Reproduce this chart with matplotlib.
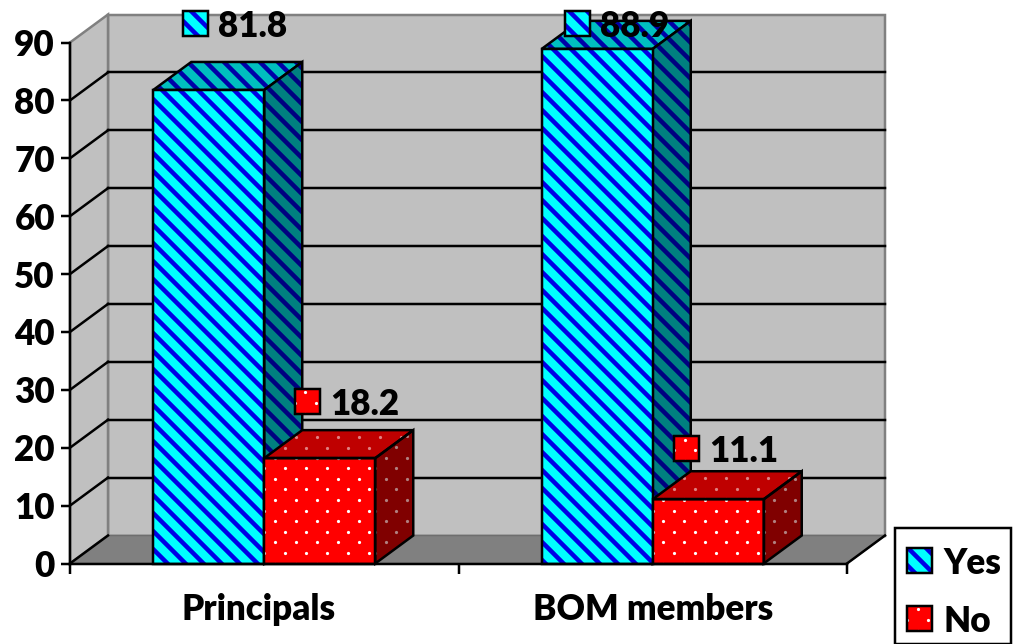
import numpy as np
import matplotlib
matplotlib.use('Agg')
import matplotlib.pyplot as plt
from matplotlib.patches import Polygon
from matplotlib.transforms import IdentityTransform

categories = ['Principals', 'BOM members']
series_names = ['Yes', 'No']
yes_values = [81.8, 88.9]
no_values = [18.2, 11.1]
y_ticks = [0, 10, 20, 30, 40, 50, 60, 70, 80, 90]

W, H = 1014, 644
DPI = 108
PX = 72 / DPI  # one pixel in points

# fake 3d depth, in data units
DX = 38 / 388.5
DY = 28 / 5.789
BAR_W = 111 / 388.5

plt.rcParams['font.family'] = ['Lato', 'DejaVu Sans']
plt.rcParams['font.weight'] = 'heavy'
plt.rcParams['hatch.linewidth'] = 4.5 * PX


def stripe_poly(xy, face, stripe, lw=2.5, **kw):
    # hatch normally takes the edge colour, here the edge stays black
    p = Polygon(xy, closed=True, facecolor=face, edgecolor='black',
                linewidth=lw * PX, hatch='\\\\', **kw)
    p._hatch_color = matplotlib.colors.to_rgba(stripe)
    return p


fig = plt.figure(figsize=(W / DPI, H / DPI), dpi=DPI, facecolor='white')
ax = fig.add_axes([70 / W, (H - 563.5) / H, 777 / W, 521 / H])
ax.set_xlim(0, 2)
ax.set_ylim(0, 90)
ax.patch.set_visible(False)


def dots(poly, color, z):
    # dotted texture clipped to a face
    box = poly.get_path().get_extents(poly.get_transform())
    xs = np.arange(box.x0 - 21, box.x1 + 21, 21)
    ys = np.arange(box.y0 - 10.6, box.y1 + 10.6, 10.6)
    gx, gy = np.meshgrid(xs, ys)
    gx = gx + (np.arange(len(ys)) % 2)[:, None] * 10.5
    sc = ax.scatter(gx.ravel(), gy.ravel(), s=(3.2 * PX) ** 2, c=color, linewidths=0,
                    transform=IdentityTransform(), zorder=z, clip_on=True)
    sc.set_clip_path(poly)


# walls and floor
ax.add_patch(Polygon([(DX, DY), (2 + DX, DY), (2 + DX, 90 + DY), (DX, 90 + DY)], fc='#c0c0c0',
                     ec='#808080', lw=2.5 * PX, clip_on=False, zorder=1))
ax.add_patch(Polygon([(0, 0), (DX, DY), (DX, 90 + DY), (0, 90)], fc='#c0c0c0',
                     ec='#808080', lw=2.5 * PX, clip_on=False, zorder=1))
ax.add_patch(Polygon([(0, 0), (2, 0), (2 + DX, DY), (DX, DY)], fc='#808080',
                     ec='#6e6e6e', lw=1.5 * PX, clip_on=False, zorder=1.5))
ax.plot([2, 2 + DX], [0, DY], color='black', lw=2.5 * PX, clip_on=False, zorder=2)
ax.plot([0, DX], [0, DY], color='black', lw=2.5 * PX, clip_on=False, zorder=2)

# gridlines, back wall and side wall
for t in y_ticks[1:]:
    if t < 90:
        ax.plot([DX, 2 + DX], [t + DY, t + DY], color='black', lw=2.5 * PX, clip_on=False, zorder=2)
        ax.plot([0, DX], [t, t + DY], color='black', lw=2.5 * PX, clip_on=False, zorder=2)


def bar(left, value, kind, z):
    right = left + BAR_W
    front = [(left, 0), (right, 0), (right, value), (left, value)]
    side = [(right, 0), (right + DX, DY), (right + DX, value + DY), (right, value)]
    top = [(left, value), (right, value), (right + DX, value + DY), (left + DX, value + DY)]
    if kind == 'Yes':
        for xy, fc, sc in [(top, '#00bfbf', '#0000a8'), (side, '#008080', '#000080'),
                           (front, '#00ffff', '#0000e6')]:
            ax.add_patch(stripe_poly(xy, fc, sc, clip_on=False, zorder=z))
    else:
        for xy, fc, dc in [(top, '#bf0000', '#e08080'), (side, '#800000', '#b08080'),
                           (front, '#ff0000', '#ffffff')]:
            p = Polygon(xy, fc=fc, ec='none', clip_on=False, zorder=z)
            ax.add_patch(p)
            dots(p, dc, z + 0.01)
            ax.add_patch(Polygon(xy, fill=False, ec='black', lw=2.5 * PX, clip_on=False, zorder=z + 0.02))


for i in range(len(categories)):
    centre = i + 0.5
    bar(centre - BAR_W, yes_values[i], 'Yes', 3 + i)
    bar(centre, no_values[i], 'No', 3.5 + i)


def swatch(x0, y0, size, kind, z=8):
    # x0, y0 = top left corner, pixels from the top left of the image
    xy = [(x0, H - y0), (x0 + size, H - y0), (x0 + size, H - y0 - size), (x0, H - y0 - size)]
    tr = IdentityTransform()
    if kind == 'Yes':
        ax.add_patch(stripe_poly(xy, '#00ffff', '#0000e6', transform=tr, clip_on=False, zorder=z))
    else:
        p = Polygon(xy, fc='#ff0000', ec='none', transform=tr, clip_on=False, zorder=z)
        ax.add_patch(p)
        dots(p, '#ffffff', z + 0.01)
        ax.add_patch(Polygon(xy, fill=False, ec='black', lw=2.5 * PX, transform=tr, clip_on=False, zorder=z + 0.02))


# value labels, offset from the top of each bar front (pixels)
label_offsets = {'Yes': [(-26, -66), (-32, -25)], 'No': [(-25, -57), (-34, -51)]}
LABEL_FS = 35 * PX
for kind, vals, side_sign in [('Yes', yes_values, -1), ('No', no_values, 1)]:
    for i, v in enumerate(vals):
        cx = i + 0.5 + side_sign * BAR_W / 2
        px, py = ax.transData.transform((cx, v))
        ox, oy = label_offsets[kind][i]
        sx = px + ox
        sy = (H - py) + oy
        swatch(sx, sy - 12.5, 25, kind)
        ax.text(sx + 35, H - sy, f'{v:.1f}', fontsize=LABEL_FS, va='center_baseline', ha='left',
                transform=IdentityTransform(), zorder=9, clip_on=False)

# axes
for s in ['top', 'right']:
    ax.spines[s].set_visible(False)
for s in ['left', 'bottom']:
    ax.spines[s].set_linewidth(2.5 * PX)
    ax.spines[s].set_zorder(7)
ax.set_yticks(y_ticks)
ax.set_yticklabels([str(t) for t in y_ticks], fontsize=LABEL_FS)
ax.tick_params(axis='y', length=9 * PX, width=2.5 * PX, pad=6 * PX)
ax.set_xticks([0, 1, 2])
ax.set_xticklabels(['', '', ''])
ax.tick_params(axis='x', length=10 * PX, width=2.5 * PX)
ax.set_xticks([0.485, 1.5], minor=True)
ax.set_xticklabels(categories, minor=True, fontsize=LABEL_FS)
ax.tick_params(axis='x', which='minor', length=0, pad=30 * PX)

# legend box, runs off the bottom of the image
ax.add_patch(Polygon([(895, H - 528), (1011, H - 528), (1011, 0), (895, 0)], fc='white', ec='black',
                     lw=2.5 * PX, transform=IdentityTransform(), clip_on=False, zorder=7))
for name, y in zip(series_names, [560, 618]):
    swatch(907, y - 12.5, 25, name)
    ax.text(943, H - y, name, fontsize=LABEL_FS, va='center_baseline', ha='left',
            transform=IdentityTransform(), zorder=9, clip_on=False)

fig.savefig('out.png', dpi=DPI)
